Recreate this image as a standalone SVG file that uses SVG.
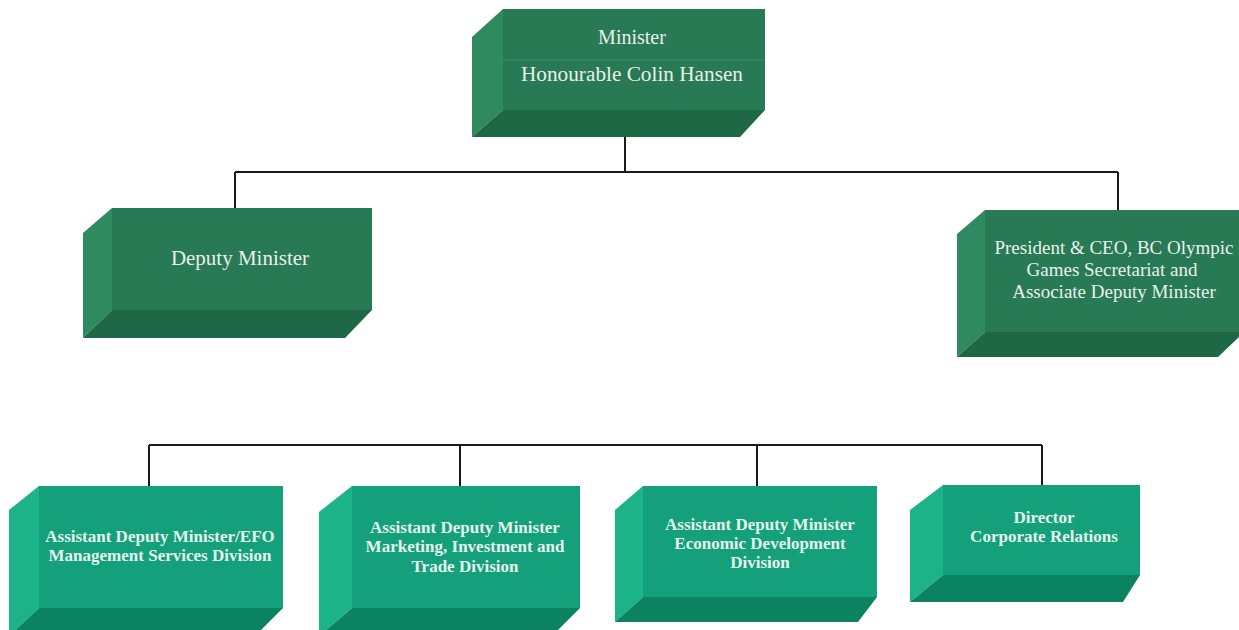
<svg xmlns="http://www.w3.org/2000/svg" width="1239" height="630" viewBox="0 0 1239 630">
<style>
.front1{fill:#287a55}
.side1{fill:#2f8a60}
.bot1{fill:#1f6845}
.front2{fill:#13a07a}
.side2{fill:#1db389}
.bot2{fill:#0c8360}
.t1{font-family:"Liberation Serif","Times New Roman",serif;fill:#e8f1ea;text-anchor:middle}
.t2{font-family:"Liberation Serif","Times New Roman",serif;fill:#e6f4ee;text-anchor:middle;font-weight:bold;font-size:17px}
.conn{stroke:#1a1a1a;stroke-width:2;fill:none}
</style>
<rect width="1239" height="630" fill="#ffffff"/>
<g id="connectors">
<path class="conn" d="M625 137 V172 M235 172 H1118 M235 172 V208 M1118 172 V210"/>
<path class="conn" d="M149 445 H1042 M149 445 V486 M460 445 V486 M757 445 V486 M1042 445 V485"/>
</g>
<g id="minister">
<rect class="front1" x="503" y="9" width="262" height="101"/>
<polygon class="side1" points="503,9 503,110 472,137 472,37"/>
<polygon class="bot1" points="503,110 765,110 740,137 472,137"/>
<line x1="503" y1="60" x2="765" y2="60" stroke="#3a8a64" stroke-width="1"/>
<text class="t1" x="632" y="44" font-size="20">Minister</text>
<text class="t1" x="632" y="81" font-size="20" textLength="222" lengthAdjust="spacingAndGlyphs">Honourable Colin Hansen</text>
</g>
<g id="deputy">
<rect class="front1" x="112" y="208" width="260" height="102"/>
<polygon class="side1" points="112,208 112,310 83,338 83,233"/>
<polygon class="bot1" points="112,310 372,310 345,338 83,338"/>
<text class="t1" x="240" y="265" font-size="21">Deputy Minister</text>
</g>
<g id="president">
<rect class="front1" x="985" y="210" width="254" height="122"/>
<polygon class="side1" points="985,210 985,332 957,357 957,234"/>
<polygon class="bot1" points="985,332 1239,332 1239,337 1218,357 957,357"/>
<text class="t1" x="1114" y="254" font-size="19">President &amp; CEO, BC Olympic</text>
<text class="t1" x="1112" y="276" font-size="19">Games Secretariat and</text>
<text class="t1" x="1114" y="298" font-size="19">Associate Deputy Minister</text>
</g>
<g id="adm-efo">
<rect class="front2" x="39" y="486" width="244" height="122"/>
<polygon class="side2" points="39,486 39,608 9,636 9,510"/>
<polygon class="bot2" points="39,608 283,608 255,636 9,636"/>
<text class="t2" x="160" y="542">Assistant Deputy Minister/EFO</text>
<text class="t2" x="160" y="561">Management Services Division</text>
</g>
<g id="adm-marketing">
<rect class="front2" x="352" y="486" width="228" height="122"/>
<polygon class="side2" points="352,486 352,608 319,636 319,512"/>
<polygon class="bot2" points="352,608 580,608 552,636 319,636"/>
<text class="t2" x="465" y="533">Assistant Deputy Minister</text>
<text class="t2" x="465" y="552">Marketing, Investment and</text>
<text class="t2" x="465" y="572">Trade Division</text>
</g>
<g id="adm-economic">
<rect class="front2" x="643" y="486" width="234" height="111"/>
<polygon class="side2" points="643,486 643,597 615,622 615,510"/>
<polygon class="bot2" points="643,597 877,597 858,622 615,622"/>
<text class="t2" x="760" y="530">Assistant Deputy Minister</text>
<text class="t2" x="760" y="549">Economic Development</text>
<text class="t2" x="760" y="568">Division</text>
</g>
<g id="director">
<rect class="front2" x="943" y="485" width="197" height="90"/>
<polygon class="side2" points="943,485 943,575 910,602 910,510"/>
<polygon class="bot2" points="943,575 1140,575 1123,602 910,602"/>
<text class="t2" x="1044" y="523">Director</text>
<text class="t2" x="1044" y="542">Corporate Relations</text>
</g>
</svg>
